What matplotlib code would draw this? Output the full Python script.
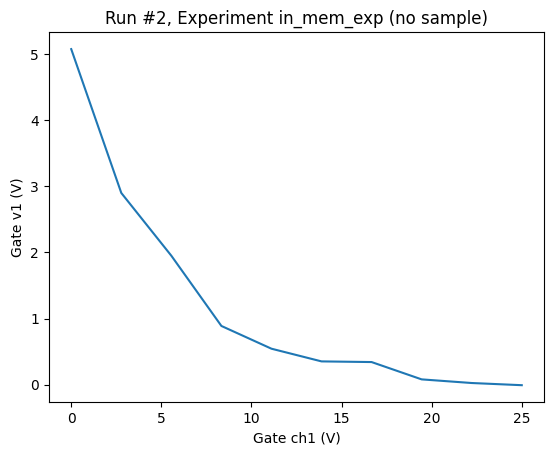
import numpy as np
import matplotlib
matplotlib.use("Agg")
import matplotlib.pyplot as plt

gate_ch1 = [0.0, 2.778, 5.556, 8.333, 11.111, 13.889, 16.667, 19.444, 22.222, 25.0]
gate_v1 = [5.076, 2.90, 1.95, 0.888, 0.544, 0.352, 0.342, 0.080, 0.025, -0.008]

fig = plt.figure(figsize=(5.54, 4.55), dpi=100)
ax = fig.add_axes([48.7 / 554, (455 - 402) / 455, 495.6 / 554, 369.7 / 455])
ax.plot(gate_ch1, gate_v1)
ax.set_title("Run #2, Experiment in_mem_exp (no sample)")
ax.set_xlabel("Gate ch1 (V)")
ax.set_ylabel("Gate v1 (V)")
fig.savefig("out.png", dpi=100)
